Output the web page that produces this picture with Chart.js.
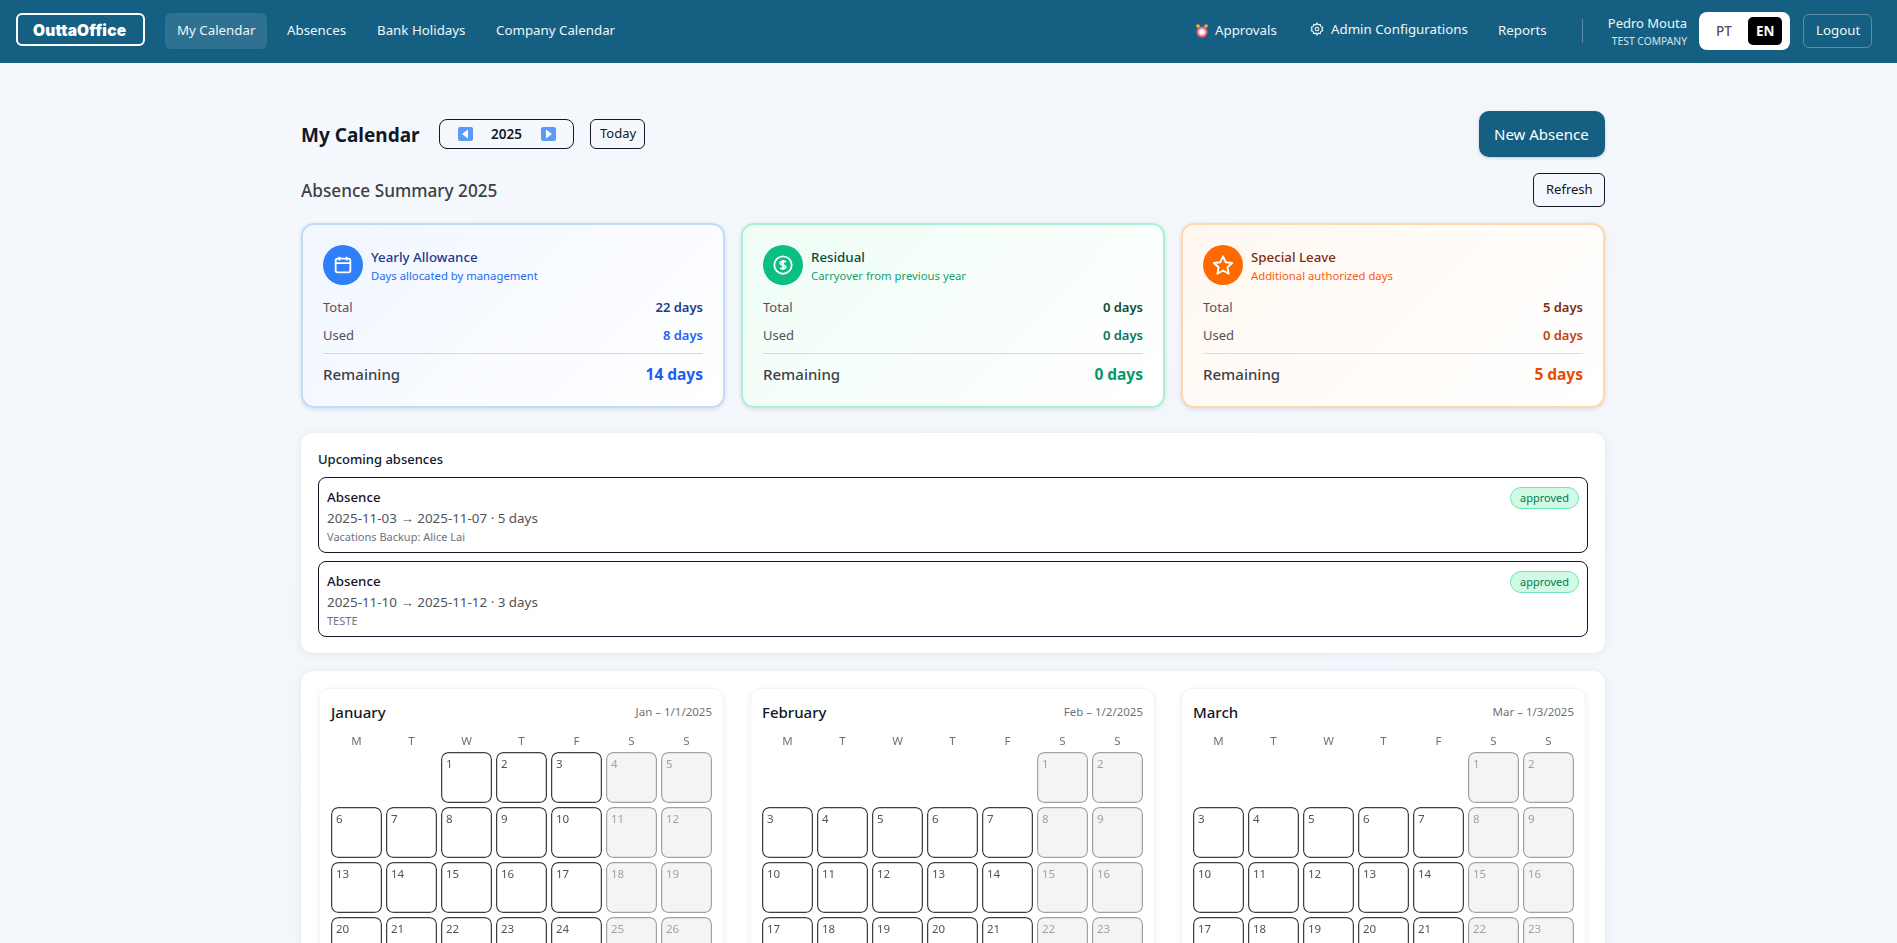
<!DOCTYPE html>
<html>
<head>
<meta charset="utf-8">
<title>OuttaOffice</title>
<script src="https://cdn.jsdelivr.net/npm/chart.js@4"></script>
<style>
  html, body { margin: 0; height: 943px; overflow: hidden; }
  body { position: relative; width: 1897px; font-family: "Noto Sans", sans-serif; color: #111827;
         background: linear-gradient(160deg, #f5f9fd 0%, #f3f6fa 50%, #f4f8fd 100%); }
  .box, .t, canvas, svg { position: absolute; box-sizing: border-box; }
  .t { white-space: nowrap; transform: translateY(-50%); line-height: 1.2; }
  .r { transform: translate(-100%, -50%); }
  .header { left: 0; top: 0; width: 1897px; height: 63px; background: #156082; }
  .nav { color: #f0f5f8; font-size: 13.3px; }
  .btn { border: 1px solid #111827; border-radius: 6px; }
  .panel { background: #fff; border-radius: 12px; box-shadow: 0 1px 8px rgba(30,50,90,.08); }
  .month { background: #fff; border: 1px solid #f3f4f6; border-radius: 11px; box-shadow: 0 2px 6px rgba(30,50,90,.06); width: 405px; height: 400px; top: 688px; }
  .card { top: 223px; width: 424px; height: 185px; border-radius: 13px; border-width: 2px; border-style: solid; box-shadow: 0 1px 4px rgba(0,0,0,.12); }
  .item { left: 318px; width: 1270px; height: 76px; background: #fff; border: 1px solid #111827; border-radius: 8px; }
  .badge { left: 1510px; width: 69px; height: 22px; border-radius: 11px; background: #d1fae5; border: 1px solid #6ee7b7; color: #047857; font-size: 11px; text-align: center; line-height: 20px; }
</style>
</head>
<body>
<div id="page"></div>
<script>
// Summary cards
const cardTitles = ['Yearly Allowance', 'Residual', 'Special Leave'];
const cardSubtitles = ['Days allocated by management', 'Carryover from previous year', 'Additional authorized days'];
const totalDays = [22, 0, 5];
const usedDays = [8, 0, 0];
const remainingDays = [14, 0, 5];

// Upcoming absences
const absenceRanges = ['2025-11-03 → 2025-11-07 · 5 days', '2025-11-10 → 2025-11-12 · 3 days'];
const absenceNotes = ['Vacations Backup: Alice Lai', 'TESTE'];

// Calendar
const weekdayLabels = ['M', 'T', 'W', 'T', 'F', 'S', 'S'];
const monthNames = ['January', 'February', 'March'];
const monthCaptions = ['Jan – 1/1/2025', 'Feb – 1/2/2025', 'Mar – 1/3/2025'];
const januaryWeeks = [
    [null, null, 1, 2, 3, 4, 5],
    [6, 7, 8, 9, 10, 11, 12],
    [13, 14, 15, 16, 17, 18, 19],
    [20, 21, 22, 23, 24, 25, 26],
    [27, 28, 29, 30, 31, null, null]
];
const februaryWeeks = [
    [null, null, null, null, null, 1, 2],
    [3, 4, 5, 6, 7, 8, 9],
    [10, 11, 12, 13, 14, 15, 16],
    [17, 18, 19, 20, 21, 22, 23],
    [24, 25, 26, 27, 28, null, null]
];
const marchWeeks = [
    [null, null, null, null, null, 1, 2],
    [3, 4, 5, 6, 7, 8, 9],
    [10, 11, 12, 13, 14, 15, 16],
    [17, 18, 19, 20, 21, 22, 23],
    [24, 25, 26, 27, 28, 29, 30],
    [31, null, null, null, null, null, null]
];

const page = document.getElementById('page');
function add(html) { page.insertAdjacentHTML('beforeend', html); }
function text(x, y, str, style, cls) {
    add(`<div class="t ${cls || ''}" style="left:${x}px;top:${y}px;${style || ''}">${str}</div>`);
}

// Header
add('<div class="box header"></div>');
add('<div class="box" style="left:16px;top:13px;width:129px;height:33px;border:2px solid #fff;border-radius:6px"></div>');
text(33, 29.5, 'OuttaOffice', 'color:#fff;font:900 15.5px Inter,sans-serif;letter-spacing:.2px');
add('<div class="box" style="left:165px;top:13px;width:102px;height:36px;border-radius:6px;background:#2f7190"></div>');
text(177, 31, 'My Calendar', '', 'nav');
text(287, 31, 'Absences', '', 'nav');
text(377, 31, 'Bank Holidays', '', 'nav');
text(496, 31, 'Company Calendar', '', 'nav');
add('<svg style="left:1196px;top:23px" width="12" height="16" viewBox="0 0 12 16"><circle cx="6" cy="9" r="5" fill="#f0a0b0" stroke="#e0566f" stroke-width="1.4"/><circle cx="6" cy="9" r="2.6" fill="#fff"/><circle cx="2" cy="3" r="1.8" fill="#f5b63c"/><circle cx="10" cy="3" r="1.8" fill="#f5b63c"/></svg>');
text(1215, 31, 'Approvals', '', 'nav');
add('<svg style="left:1310px;top:22px" width="14" height="14" viewBox="0 0 24 24" fill="none" stroke="#f0f5f8" stroke-width="2"><circle cx="12" cy="12" r="3"/><path d="M12 2l2 3 3.5-.8 1 3.4 3.3 1.4-1.3 3 1.3 3-3.3 1.4-1 3.4L14 19l-2 3-2-3-3.5.8-1-3.4L2.200 15l1.300-3-1.300-3 3.300-1.400 1-3.400L10 5z"/></svg>');
text(1331, 29.5, 'Admin Configurations', '', 'nav');
text(1498, 31, 'Reports', '', 'nav');
add('<div class="box" style="left:1582px;top:19px;width:1px;height:24px;background:#5b8ea6"></div>');
text(1687, 24, 'Pedro Mouta', 'color:#f0f5f8;font-size:13px', 'r');
text(1687, 41, 'TEST COMPANY', 'color:#d5e3ea;font-size:10.300px', 'r');
add('<div class="box" style="left:1699px;top:12px;width:91px;height:38px;border-radius:8px;background:#fff"></div>');
text(1716, 31, 'PT', 'color:#52525b;font-size:13.500px;font-weight:500');
add('<div class="box" style="left:1748px;top:17px;width:34px;height:28px;border-radius:5px;background:#000"></div>');
text(1756, 31, 'EN', 'color:#fff;font-size:13.500px;font-weight:700');
add('<div class="box" style="left:1803px;top:14px;width:69px;height:34px;border:1px solid #5b8ea6;border-radius:6px"></div>');
text(1816, 31, 'Logout', '', 'nav');

// Title row
text(301, 135, 'My Calendar', 'font-size:19px;font-weight:700');
add('<div class="box btn" style="left:439px;top:119px;width:135px;height:30px;border-radius:8px"></div>');
const arrow = (x, pts) => `<svg style="left:${x}px;top:127px" width="15" height="14" viewBox="0 0 15 14"><rect width="15" height="14" rx="2" fill="#5a9cf5"/><polygon points="10,2.500 10,11.500 4,7" fill="#fff" transform="${pts}"/></svg>`;
add(arrow(458, ''));
add(arrow(541, 'translate(15 0) scale(-1 1)'));
text(491, 134, '2025', 'font-size:13.500px;font-weight:600');
add('<div class="box btn" style="left:590px;top:119px;width:55px;height:30px"></div>');
text(600, 134, 'Today', 'font-size:13px;font-weight:400');
add('<div class="box" style="left:1479px;top:111px;width:126px;height:46px;border-radius:10px;background:#156082;box-shadow:0 1px 3px rgba(0,0,0,.2)"></div>');
text(1494, 134, 'New Absence', 'color:#fff;font-size:15px;font-weight:400');
text(301, 191, 'Absence Summary 2025', 'font-size:17.200px;font-weight:500;color:#3f3f46');
add('<div class="box btn" style="left:1533px;top:173px;width:72px;height:34px"></div>');
text(1546, 190, 'Refresh', 'font-size:13px');

// Summary cards
const cardLeft = [302, 742, 1182];
const cardStyle = [
    { border: '#bfdbfe', bg: '#f1f6ff', icon: '#2f7ff8', title: '#1e3a8a', sub: '#1d6cf5', used: '#2563eb', rem: '#1d5cf5',
      glyph: '<rect x="4" y="5" width="16" height="15" rx="2"/><path d="M8 3v4M16 3v4M4 10h16"/>' },
    { border: '#a7f3d0', bg: '#effdf6', icon: '#0abf7f', title: '#064e3b', sub: '#0ea371', used: '#047857', rem: '#059669',
      glyph: '<circle cx="12" cy="12" r="9.500"/><path d="M15 9c-1-1.500-6-1.500-6 .8 0 3 6 1.500 6 4.400 0 2.300-5 2.300-6 .8M12 6.500v11"/>' },
    { border: '#fed7aa', bg: '#fff8f1', icon: '#ff6a00', title: '#7c2d12', sub: '#f9590a', used: '#c2410c', rem: '#ea4a00',
      glyph: '<polygon points="12,2.500 15,9 22,9.800 16.800,14.500 18.200,21.500 12,18 5.800,21.500 7.200,14.500 2,9.800 9,9"/>' }
];
cardTitles.forEach((title, i) => {
    const x = cardLeft[i], s = cardStyle[i];
    add(`<div class="box card" style="left:${x - 1}px;border-color:${s.border};background:linear-gradient(135deg,${s.bg},#fff)"></div>`);
    add(`<div class="box" style="left:${x + 21}px;top:245px;width:40px;height:40px;border-radius:50%;background:${s.icon}"></div>`);
    add(`<svg style="left:${x + 30}px;top:254px" width="22" height="22" viewBox="0 0 24 24" fill="none" stroke="#fff" stroke-width="2" stroke-linejoin="round">${s.glyph}</svg>`);
    text(x + 69, 258, title, `font-size:13.300px;font-weight:500;color:${s.title}`);
    text(x + 69, 276, cardSubtitles[i], `font-size:11.300px;color:${s.sub}`);
    text(x + 21, 308, 'Total', 'font-size:13px;color:#52525b');
    text(x + 401, 308, totalDays[i] + ' days', `font-size:13px;font-weight:600;color:${s.title}`, 'r');
    text(x + 21, 336, 'Used', 'font-size:13px;color:#52525b');
    text(x + 401, 336, usedDays[i] + ' days', `font-size:13px;font-weight:600;color:${s.used}`, 'r');
    add(`<div class="box" style="left:${x + 21}px;top:353px;width:380px;height:1px;background:${s.border}"></div>`);
    text(x + 21, 374, 'Remaining', 'font-size:15px;font-weight:500;color:#3f3f46');
    text(x + 401, 374, remainingDays[i] + ' days', `font-size:15.500px;font-weight:700;color:${s.rem}`, 'r');
});

// Upcoming absences
add('<div class="box panel" style="left:301px;top:433px;width:1304px;height:220px"></div>');
text(318, 460, 'Upcoming absences', 'font-size:13px;font-weight:500');
absenceRanges.forEach((range, i) => {
    const y = 477 + i * 84;
    add(`<div class="box item" style="top:${y}px"></div>`);
    text(327, y + 21, 'Absence', 'font-size:13.300px;font-weight:500');
    text(327, y + 41, range, 'font-size:13.400px;color:#52525b');
    text(327, y + 60, absenceNotes[i], 'font-size:11px;color:#71717a');
    add(`<div class="box badge" style="top:${y + 10}px">approved</div>`);
});

// Month panels
add('<div class="box panel" style="left:301px;top:671px;width:1304px;height:420px"></div>');
const monthLeft = [319, 750, 1181];
const monthWeeks = [januaryWeeks, februaryWeeks, marchWeeks];

const rowGap = 2 / 55;
const dayNumbers = {
    id: 'dayNumbers',
    afterDatasetsDraw(chart) {
        const { ctx } = chart;
        ctx.save();
        ctx.font = '11.5px "Noto Sans"';
        ctx.textBaseline = 'middle';
        chart.data.datasets.forEach((ds, row) => {
            chart.getDatasetMeta(row).data.forEach((bar, col) => {
                if (ds.days[col] === null) return;
                ctx.fillStyle = col >= 5 ? '#a1a1aa' : '#52525b';
                ctx.fillText(ds.days[col], bar.x - bar.width / 2 + 5, Math.min(bar.y, bar.base) + 13);
            });
        });
        ctx.restore();
    }
};

monthNames.forEach((name, m) => {
    const left = monthLeft[m];
    add(`<div class="box month" style="left:${left}px"></div>`);
    text(left + 12, 712, name, 'font-size:15px;font-weight:500');
    text(left + 393, 712, monthCaptions[m], 'font-size:11.500px;color:#71717a', 'r');
    add(`<canvas id="month-${m}" width="385" height="351" style="left:${left + 10}px;top:729px"></canvas>`);
});

monthNames.forEach((name, m) => {
    new Chart(document.getElementById('month-' + m), {
        type: 'bar',
        data: {
            labels: weekdayLabels,
            datasets: monthWeeks[m].map((week, row) => ({
                days: week,
                data: week.map(day => day === null ? null : [row + rowGap, row + 1 - rowGap]),
                grouped: false,
                barPercentage: 51 / 55,
                categoryPercentage: 1,
                borderWidth: 1.5,
                borderRadius: 7,
                borderSkipped: false,
                inflateAmount: 0,
                backgroundColor: c => c.dataIndex >= 5 ? '#f4f4f5' : '#ffffff',
                borderColor: c => c.dataIndex >= 5 ? '#a1a1aa' : '#3f3f46'
            }))
        },
        options: {
            responsive: false,
            animation: false,
            devicePixelRatio: 1,
            layout: { padding: 0 },
            plugins: { legend: { display: false }, tooltip: { enabled: false } },
            scales: {
                x: {
                    position: 'top',
                    grid: { display: false, drawTicks: false },
                    border: { display: false },
                    ticks: { color: '#71717a', font: { family: 'Noto Sans', size: 11.5 }, padding: 1, maxRotation: 0 },
                    afterFit(scale) { scale.height = 21; }
                },
                y: { display: false, reverse: true, min: 0, max: 6 }
            }
        },
        plugins: [dayNumbers]
    });
});
</script>
</body>
</html>
